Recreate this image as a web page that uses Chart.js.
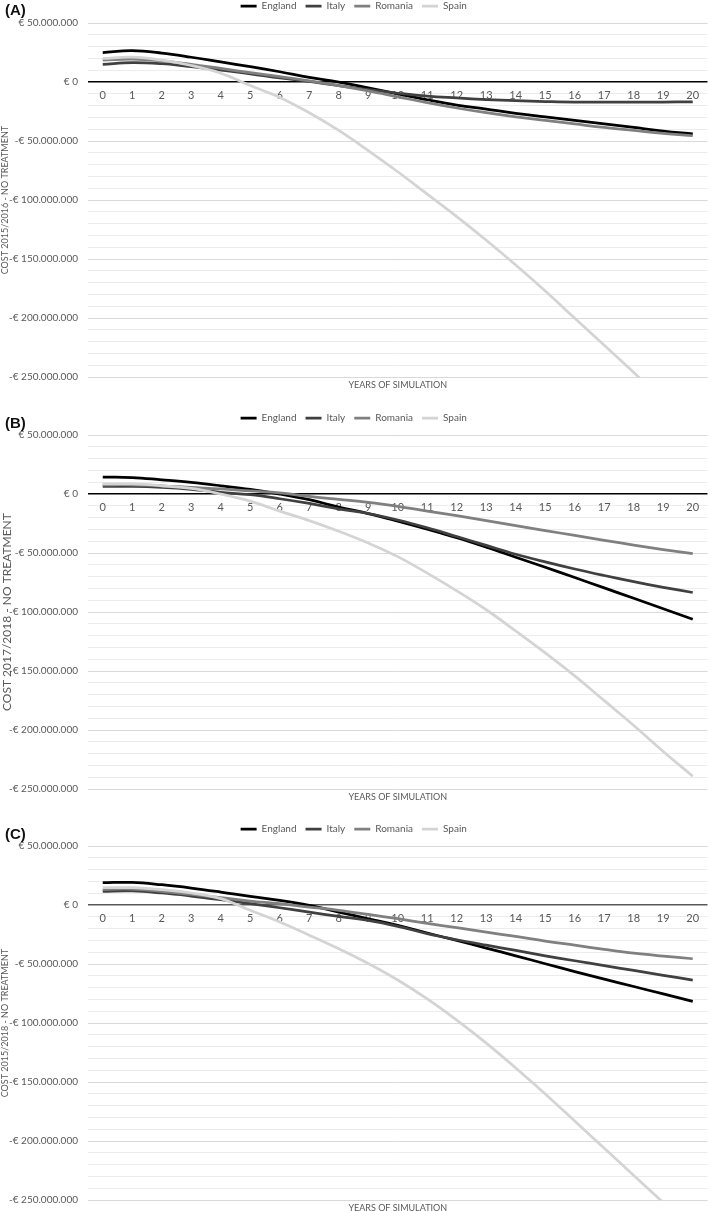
<!DOCTYPE html>
<html>
<head>
<meta charset="utf-8">
<script src="https://cdn.jsdelivr.net/npm/chart.js@4.4.1/dist/chart.umd.min.js"></script>
<style>
  html, body { margin: 0; padding: 0; background: #fff; }
  body { width: 709px; height: 1211px; position: relative; overflow: hidden; }
  .panel { position: absolute; left: 0; width: 709px; height: 402px; }
  .tag { position: absolute; left: 5px; font: bold 15px "Liberation Sans", Arial, sans-serif; color: #111; }
</style>
</head>
<body>
<div class="panel" style="top:-8px"><canvas id="cA"></canvas></div>
<div class="panel" style="top:404px"><canvas id="cB"></canvas></div>
<div class="panel" style="top:815px"><canvas id="cC"></canvas></div>
<div class="tag" style="top:1px">(A)</div>
<div class="tag" style="top:414px">(B)</div>
<div class="tag" style="top:825px">(C)</div>
<script>
// Categories: years of simulation
const years = ['0','1','2','3','4','5','6','7','8','9','10','11','12','13','14','15','16','17','18','19','20'];
const countries = ['England', 'Italy', 'Romania', 'Spain'];

// Values in millions of euro
// Panel A: cost 2015/2016 - no treatment
const englandA = [25, 26.5, 24.5, 21, 17, 13, 8.7, 4, 0, -5, -10, -15, -19.5, -23, -26.5, -29.5, -32.5, -35.5, -38.5, -41.5, -44];
const italyA   = [15, 16.5, 15.5, 13, 10, 7, 3.5, 0.5, -3, -6.5, -9.5, -12, -13.5, -14.8, -15.8, -16.5, -17, -17, -17, -17, -16.7];
const romaniaA = [18.5, 19.5, 18, 15, 11.5, 8, 4.5, 1, -3, -7.5, -12.5, -17.5, -22, -26, -29.5, -32.5, -35.5, -38.5, -41, -43.5, -45.5];
const spainA   = [20, 21, 18.5, 14, 7.5, -3, -13, -26, -41, -58, -76, -95, -114, -134, -155, -177, -200, -223, -246, -270, -295];

// Panel B: cost 2017/2018 - no treatment
const englandB = [14.3, 14, 12, 9.8, 7, 3.9, 0, -4.8, -11, -16.6, -23, -29.8, -37, -45, -53.5, -62, -70.7, -79.5, -88.3, -97.2, -106];
const italyB   = [6.4, 6.4, 5.6, 4, 1.5, -0.6, -4, -8, -12.6, -16.5, -22, -28.6, -36, -43.5, -51, -57.5, -63.5, -69, -74.2, -79, -83.4];
const romaniaB = [7.8, 7.8, 7, 5.6, 4.3, 2.6, 1, -2, -4.5, -7, -10.4, -14.5, -18.3, -22.5, -26.7, -31, -35, -39.2, -43.2, -47, -50.5];
const spainB   = [8.7, 8.5, 7, 4.7, 0, -6, -14.5, -22.5, -31.5, -41.5, -53, -67, -82, -98, -116, -134.5, -154, -175, -196, -218, -239];

// Panel C: cost 2015/2018 - no treatment
const englandC = [18.9, 19.2, 17.2, 14.4, 11, 7.3, 4, -0.3, -6, -11.6, -17.2, -23.7, -30, -36.5, -43, -49.7, -56.4, -62.8, -69, -75.3, -81.6];
const italyC   = [11.6, 11.9, 10.2, 7.6, 4.5, 1.1, -2.3, -6, -9.6, -13, -18, -24.3, -29.4, -34, -38.4, -43, -47.2, -51.3, -55.4, -59.5, -63.6];
const romaniaC = [13.3, 13.5, 11.6, 9, 6.2, 3.4, 1.1, -1.7, -4.5, -8, -11.6, -15.5, -19.2, -23, -26.6, -30.5, -34, -37.5, -40.7, -43.2, -45.5];
const spainC   = [14.7, 14.7, 13, 10.2, 5.4, -4.5, -14.4, -25.5, -37, -49.5, -63.5, -79.5, -97.5, -117, -138, -160, -183, -206, -229, -252, -275];

// Axis settings (millions of euro)
const yMin = -250, yMax = 50, yStep = 10, yLabelStep = 50;
const xTitle = 'YEARS OF SIMULATION';

const colors = ['#000000', '#404040', '#808080', '#d4d4d4'];

Chart.defaults.font.family = 'Lato, "Open Sans", sans-serif';
Chart.defaults.color = '#595959';

function euroLabel(vMillions) {
  if (vMillions === 0) return '€ 0';
  const neg = vMillions < 0;
  const n = Math.round(Math.abs(vMillions) * 1e6);
  const s = String(n).replace(/\B(?=(\d{3})+(?!\d))/g, '.');
  return (neg ? '-' : '') + '€ ' + s;
}

const legendSpacer = {
  id: 'legendSpacer',
  beforeInit(chart) {
    const orig = chart.legend.fit;
    chart.legend.fit = function () { orig.call(this); this.height += 2; };
  }
};

function makeChart(id, series, yTitle, yTitleSize, zeroColor) {
  const datasets = countries.map((c, i) => ({
    label: c,
    data: series[i],
    borderColor: colors[i],
    backgroundColor: colors[i],
    borderWidth: 2.75,
    pointRadius: 0,
    pointHoverRadius: 0,
    tension: 0.4,
    fill: false,
    order: countries.length - i
  }));
  return new Chart(document.getElementById(id), {
    type: 'line',
    data: { labels: years, datasets },
    plugins: [legendSpacer],
    options: {
      responsive: true,
      maintainAspectRatio: false,
      animation: false,
      devicePixelRatio: 1,
      layout: { padding: { left: 0, right: 1.5, top: 0, bottom: 0 } },
      plugins: {
        tooltip: { enabled: false },
        legend: {
          position: 'top',
          align: 'center',
          labels: {
            usePointStyle: true,
            pointStyle: 'line',
            pointStyleWidth: 16,
            padding: 9,
            color: '#595959',
            font: { size: 10 },
            sort: (a, b) => a.datasetIndex - b.datasetIndex
          }
        }
      },
      scales: {
        x: {
          type: 'category',
          position: { y: 0 },
          offset: true,
          grid: { display: false, drawTicks: false },
          border: { display: false },
          ticks: { padding: 7, font: { size: 11 }, color: '#595959', maxRotation: 0, autoSkip: false }
        },
        x2: {
          type: 'category',
          labels: years,
          position: 'bottom',
          offset: true,
          grid: { display: false, drawTicks: false },
          border: { display: false },
          ticks: { display: false },
          title: { display: true, text: xTitle, color: '#595959', font: { size: 9 }, padding: { top: 2, bottom: 4 } }
        },
        y: {
          min: yMin,
          max: yMax,
          border: { display: false },
          grid: {
            drawTicks: false,
            color: (ctx) => {
              const v = ctx.tick ? ctx.tick.value : null;
              if (v === 0) return zeroColor;
              if (v !== null && v % yLabelStep === 0) return '#d9d9d9';
              return '#ececec';
            },
            lineWidth: (ctx) => (ctx.tick && ctx.tick.value === 0 ? 1.5 : 1)
          },
          ticks: {
            stepSize: yStep,
            maxTicksLimit: 100,
            autoSkip: false,
            padding: 10,
            font: { size: 10 },
            color: '#595959',
            callback: (v) => (v % yLabelStep === 0 ? euroLabel(v) : '')
          },
          title: { display: true, text: yTitle, color: '#595959', font: { size: yTitleSize }, padding: { top: 0, bottom: 0 } },
          afterFit: (scale) => { scale.width = 88; }
        }
      }
    }
  });
}

makeChart('cA', [englandA, italyA, romaniaA, spainA], 'COST 2015/2016 - NO TREATMENT', 9, '#000000');
makeChart('cB', [englandB, italyB, romaniaB, spainB], 'COST 2017/2018 - NO TREATMENT', 12, '#000000');
makeChart('cC', [englandC, italyC, romaniaC, spainC], 'COST 2015/2018 - NO TREATMENT', 9, '#595959');
</script>
</body>
</html>
